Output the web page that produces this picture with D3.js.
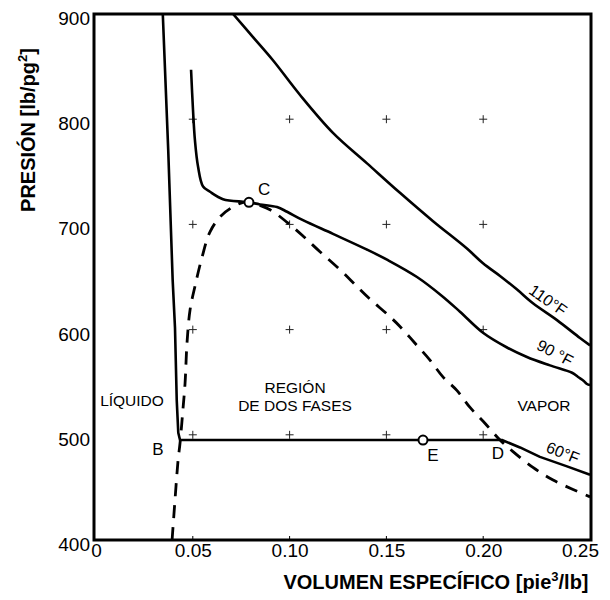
<!DOCTYPE html>
<html>
<head>
<meta charset="utf-8">
<script src="https://cdn.jsdelivr.net/npm/d3@7"></script>
<style>
  body { margin: 0; background: #fff; }
  svg { display: block; }
  text { font-family: "Liberation Sans", Arial, Helvetica, sans-serif; fill: #000; }
</style>
</head>
<body>
<svg id="chart" width="610" height="600"></svg>
<script>
// Pressure – specific volume diagram: isotherms and saturation dome

const xTicks = [0, 0.05, 0.10, 0.15, 0.20, 0.25];
const xTickLabels = ["0", "0.05", "0.10", "0.15", "0.20", "0.25"];
const yTicks = [400, 500, 600, 700, 800, 900];
const gridV = [0.05, 0.10, 0.15, 0.20];
const gridP = [500, 600, 700, 800];

// 60 °F isotherm: compressed liquid, two-phase plateau B–D, superheated vapour
const v60 = [0.0345, 0.0373, 0.0396, 0.0408, 0.0417, 0.0425, 0.0434, 0.2097, 0.2190, 0.2293, 0.2433, 0.2552];
const p60 = [900, 771, 647, 602, 533, 502, 495, 495, 488, 479, 470, 462];

// 90 °F isotherm (through the critical point C)
const v90 = [0.0491, 0.0501, 0.0511, 0.0527, 0.0553, 0.0589, 0.0656, 0.0759, 0.0790, 0.0847, 0.0935, 0.0987,
             0.1069, 0.1224, 0.1400, 0.1508, 0.1658, 0.1787, 0.1880, 0.1999, 0.2123, 0.2226, 0.2345,
             0.2459, 0.2490, 0.2521, 0.2536, 0.2552];
const p90 = [847, 809, 780, 755, 736, 731, 724, 721.5, 721, 719, 716.5, 712, 704, 691, 676, 666, 650, 632,
             617, 597, 583, 574, 566, 559, 555, 551, 548.3, 547.3];

// 110 °F isotherm
const v110 = [0.0708, 0.0811, 0.0914, 0.1054, 0.1224, 0.1400, 0.1570, 0.1741, 0.1916, 0.1999, 0.2087,
              0.2175, 0.2257, 0.2381, 0.2500, 0.2552];
const p110 = [900, 878, 856, 823, 787, 758, 730, 703, 677, 663, 651, 638, 625, 609, 592, 585];

// Saturation dome (saturated liquid branch, C, saturated vapour branch)
const vSat = [0.0393, 0.0408, 0.0424, 0.0434, 0.0449, 0.0460, 0.0470, 0.0486, 0.0511, 0.0548, 0.0589,
              0.0651, 0.0744, 0.0790, 0.0847, 0.0899, 0.0987, 0.1069, 0.1157, 0.1260, 0.1348, 0.1415,
              0.1508, 0.1570, 0.1648, 0.1725, 0.1792, 0.1865, 0.1932, 0.2009, 0.2087, 0.2154, 0.2257,
              0.2361, 0.2464, 0.2552];
const pSat = [400, 438, 476, 492, 524, 549, 587, 619, 641, 669, 693, 709, 720, 721, 718, 714, 702, 689,
              674, 657, 641, 629, 614, 603, 587, 571, 555, 542, 526, 511, 495, 484, 469, 457, 448, 441];

// Marked states
const pointNames = ["C", "E"];
const pointV = [0.0790, 0.1689];
const pointP = [721, 495];

// Letter labels of states
const letterNames = ["C", "B", "E", "D"];
const letterV = [0.0868, 0.0320, 0.1740, 0.2076];
const letterP = [734, 486, 481, 483];

// Region names
const regionNames = ["LÍQUIDO", "REGIÓN", "DE DOS FASES", "VAPOR"];
const regionV = [0.0186, 0.1028, 0.1028, 0.2314];
const regionP = [533, 545, 528, 528];

// Isotherm labels
const isoNames = ["110°F", "90 °F", "60°F"];
const isoV = [0.2335, 0.2371, 0.2412];
const isoP = [628, 578, 483];
const isoAngle = [35, 28, 22];

const svg = d3.select("#chart");
const frame = { left: 94, right: 591, top: 14, bottom: 540 };

const x = d3.scaleLinear().domain([0, 0.25]).range([96, 580]);
const y = d3.scaleLinear().domain([400, 900]).range([frame.bottom, frame.top]);

svg.append("clipPath").attr("id", "plot-clip")
  .append("rect")
  .attr("x", frame.left).attr("y", frame.top)
  .attr("width", frame.right - frame.left).attr("height", frame.bottom - frame.top);

// grid crosses
const crosses = svg.append("g").attr("stroke", "#222").attr("stroke-width", 1);
gridV.forEach(v => gridP.forEach(p => {
  crosses.append("line").attr("x1", x(v) - 4).attr("x2", x(v) + 4).attr("y1", y(p)).attr("y2", y(p));
  crosses.append("line").attr("x1", x(v)).attr("x2", x(v)).attr("y1", y(p) - 4).attr("y2", y(p) + 4);
}));

// small inward ticks on the bottom edge
svg.append("g").selectAll("line").data(gridV).join("line")
  .attr("x1", d => x(d)).attr("x2", d => x(d))
  .attr("y1", frame.bottom).attr("y2", frame.bottom - 4)
  .attr("stroke", "#000").attr("stroke-width", 1);

const plot = svg.append("g").attr("clip-path", "url(#plot-clip)");

const zip = (vs, ps) => vs.map((v, i) => [v, ps[i]]);
const line = d3.line().x(d => x(d[0])).y(d => y(d[1]));
const smooth = d3.line().x(d => x(d[0])).y(d => y(d[1])).curve(d3.curveCatmullRom.alpha(0.5));

plot.append("path").datum(zip(vSat, pSat))
  .attr("d", smooth).attr("fill", "none").attr("stroke", "#000")
  .attr("stroke-width", 2.8).attr("stroke-dasharray", "13,9");

plot.append("path").datum(zip(v110, p110))
  .attr("d", smooth).attr("fill", "none").attr("stroke", "#000").attr("stroke-width", 2.6);

plot.append("path").datum(zip(v90, p90))
  .attr("d", smooth).attr("fill", "none").attr("stroke", "#000").attr("stroke-width", 2.6);

plot.append("path").datum(zip(v60, p60))
  .attr("d", line).attr("fill", "none").attr("stroke", "#000").attr("stroke-width", 2.6)
  .attr("stroke-linejoin", "round");

// marked states
svg.append("g").selectAll("circle").data(pointNames).join("circle")
  .attr("cx", (d, i) => x(pointV[i])).attr("cy", (d, i) => y(pointP[i]))
  .attr("r", 4.5).attr("fill", "#fff").attr("stroke", "#000").attr("stroke-width", 2);

// frame
svg.append("rect")
  .attr("x", frame.left).attr("y", frame.top)
  .attr("width", frame.right - frame.left).attr("height", frame.bottom - frame.top)
  .attr("fill", "none").attr("stroke", "#000").attr("stroke-width", 3);

// axes labels
const xAxis = svg.append("g").attr("transform", `translate(0,${frame.bottom})`)
  .call(d3.axisBottom(x).tickValues(xTicks).tickFormat((d, i) => xTickLabels[i]).tickSize(0).tickPadding(4));
xAxis.select(".domain").remove();
xAxis.selectAll("text").attr("font-size", 19).attr("font-family", null);

const yAxis = svg.append("g").attr("transform", `translate(${frame.left - 4},0)`)
  .call(d3.axisLeft(y).tickValues(yTicks).tickFormat(d3.format("d")).tickSize(0).tickPadding(0));
yAxis.select(".domain").remove();
yAxis.selectAll("text").attr("font-size", 19).attr("font-family", null).attr("dy", "0.55em");

// axis titles
const xt = svg.append("text").attr("x", 436).attr("y", 589)
  .attr("text-anchor", "middle").attr("font-size", 20).attr("font-weight", "bold");
xt.append("tspan").text("VOLUMEN ESPECÍFICO [pie");
xt.append("tspan").attr("font-size", 13).attr("dy", -8).text("3");
xt.append("tspan").attr("dy", 8).text("/lb]");

const yt = svg.append("text").attr("transform", "translate(35,130) rotate(-90)")
  .attr("text-anchor", "middle").attr("font-size", 20).attr("font-weight", "bold");
yt.append("tspan").text("PRESIÓN [lb/pg");
yt.append("tspan").attr("font-size", 13).attr("dy", -8).text("2");
yt.append("tspan").attr("dy", 8).text("]");

// state letters
svg.append("g").selectAll("text").data(letterNames).join("text")
  .attr("x", (d, i) => x(letterV[i])).attr("y", (d, i) => y(letterP[i]))
  .attr("dy", "0.35em").attr("text-anchor", "middle").attr("font-size", 17).text(d => d);

// region names
svg.append("g").selectAll("text").data(regionNames).join("text")
  .attr("x", (d, i) => x(regionV[i])).attr("y", (d, i) => y(regionP[i]))
  .attr("dy", "0.35em").attr("text-anchor", "middle").attr("font-size", 15.5).text(d => d);

// isotherm labels
svg.append("g").selectAll("text").data(isoNames).join("text")
  .attr("transform", (d, i) => `translate(${x(isoV[i])},${y(isoP[i])}) rotate(${isoAngle[i]})`)
  .attr("dy", "0.35em").attr("text-anchor", "middle").attr("font-size", 16).text(d => d);
</script>
</body>
</html>
